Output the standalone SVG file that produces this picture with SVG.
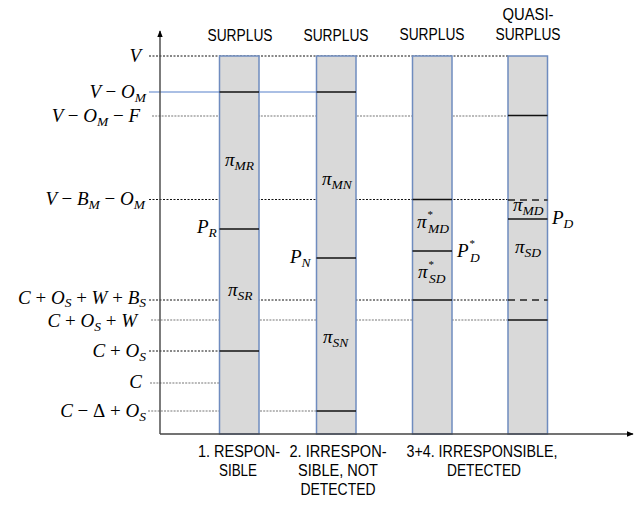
<svg xmlns="http://www.w3.org/2000/svg" width="636" height="505" viewBox="0 0 636 505">
<defs>
<marker id="arr" viewBox="0 0 10 10" refX="9" refY="5" markerWidth="7" markerHeight="7" orient="auto" markerUnits="userSpaceOnUse">
<path d="M0,1 L10,5 L0,9 Z" fill="#000"/>
</marker>
<style>
.bar{fill:#d9d9d9;stroke:#6f8cbf;stroke-width:1.5}
.lvl{stroke:#111;stroke-width:1.6}
.dash{stroke:#222;stroke-width:1.6;stroke-dasharray:7,5}
.dotk{stroke:#111;stroke-width:1;stroke-dasharray:2,1.5}
.dotg{stroke:#777;stroke-width:1.2;stroke-dasharray:2,1.2}
.blue{stroke:#8eaadb;stroke-width:1.6}
.ax{stroke:#444;stroke-width:1.4;fill:none}
.m{font-family:"Liberation Serif","DejaVu Serif",serif;font-style:italic;font-size:19px;fill:#000}
.up{font-style:normal}
.s{font-size:13.5px}
.st{font-size:11px;font-style:normal}
.h{font-family:"Liberation Sans",Arial,sans-serif;font-size:16px;fill:#000;text-anchor:middle}
</style>
</defs>
<rect width="636" height="505" fill="#fff"/>

<g id="guides">
<line class="dotk" x1="149" y1="56" x2="508" y2="56"/>
<line class="dotg" x1="152" y1="116" x2="508" y2="116"/>
<line class="dotk" x1="149" y1="199.5" x2="508" y2="199.5"/>
<line class="dotk" x1="149" y1="300" x2="508" y2="300"/>
<line class="dotg" x1="151" y1="320" x2="508" y2="320"/>
<line class="dotk" x1="149" y1="351" x2="219" y2="351"/>
<line class="dotg" x1="150" y1="383" x2="219" y2="383"/>
<line class="dotg" x1="148" y1="411" x2="316" y2="411"/>
<line class="blue" x1="149" y1="92" x2="316" y2="92"/>
</g>

<g id="bar1">
<rect class="bar" x="219.5" y="56" width="39.5" height="378"/>
<line class="lvl" x1="219.5" y1="92" x2="259" y2="92"/>
<line class="lvl" x1="219.5" y1="229" x2="259" y2="229"/>
<line class="lvl" x1="219.5" y1="351" x2="259" y2="351"/>
<text class="m" x="225" y="166">π<tspan class="s" dy="4">MR</tspan></text>
<text class="m" x="228" y="296">π<tspan class="s" dy="4">SR</tspan></text>
</g>

<g id="bar2">
<rect class="bar" x="316.5" y="56" width="39.5" height="378"/>
<line class="lvl" x1="316.5" y1="92" x2="356" y2="92"/>
<line class="lvl" x1="316.5" y1="258" x2="356" y2="258"/>
<line class="lvl" x1="316.5" y1="411" x2="356" y2="411"/>
<text class="m" x="322" y="185">π<tspan class="s" dy="4">MN</tspan></text>
<text class="m" x="323" y="343">π<tspan class="s" dy="4">SN</tspan></text>
</g>

<g id="bar3">
<rect class="bar" x="412.5" y="56" width="39.5" height="378"/>
<line class="lvl" x1="412.5" y1="199.5" x2="452" y2="199.5"/>
<line class="lvl" x1="412.5" y1="251" x2="452" y2="251"/>
<line class="lvl" x1="412.5" y1="300" x2="452" y2="300"/>
<text class="m" x="417" y="228">π<tspan class="st" dx="1" dy="-10">*</tspan><tspan class="s" dx="-5" dy="15">MD</tspan></text>
<text class="m" x="418" y="278">π<tspan class="st" dx="1" dy="-10">*</tspan><tspan class="s" dx="-5" dy="15">SD</tspan></text>
</g>

<g id="bar4">
<rect class="bar" x="508" y="56" width="39.5" height="378"/>
<line class="lvl" x1="508" y1="115.5" x2="547.5" y2="115.5"/>
<line class="dash" x1="508" y1="200" x2="547.5" y2="200"/>
<line class="lvl" x1="508" y1="219" x2="547.5" y2="219"/>
<line class="dash" x1="508" y1="300" x2="547.5" y2="300"/>
<line class="lvl" x1="508" y1="320" x2="547.5" y2="320"/>
<text class="m" x="513" y="211">π<tspan class="s" dy="4">MD</tspan></text>
<text class="m" x="515" y="253">π<tspan class="s" dy="4">SD</tspan></text>
</g>

<g id="axes">
<line class="ax" x1="160" y1="434" x2="160" y2="31" marker-end="url(#arr)"/>
<line class="ax" x1="160" y1="434" x2="633" y2="434" marker-end="url(#arr)"/>
</g>

<g id="ylabels" text-anchor="end">
<text class="m" x="141" y="62">V</text>
<text class="m" x="146" y="98">V <tspan class="up">−</tspan> O<tspan class="s" dy="4">M</tspan></text>
<text class="m" x="140" y="122">V <tspan class="up">−</tspan> O<tspan class="s" dy="4">M</tspan><tspan dy="-4"> <tspan class="up">−</tspan> F</tspan></text>
<text class="m" x="145" y="205">V <tspan class="up">−</tspan> B<tspan class="s" dy="4">M</tspan><tspan dy="-4"> <tspan class="up">−</tspan> O</tspan><tspan class="s" dy="4">M</tspan></text>
<text class="m" x="146" y="304">C <tspan class="up">+</tspan> O<tspan class="s" dy="3">S</tspan><tspan dy="-3"> <tspan class="up">+</tspan> W <tspan class="up">+</tspan> B</tspan><tspan class="s" dy="3">S</tspan></text>
<text class="m" x="137" y="327">C <tspan class="up">+</tspan> O<tspan class="s" dy="4">S</tspan><tspan dy="-4"> <tspan class="up">+</tspan> W</tspan></text>
<text class="m" x="146" y="357">C <tspan class="up">+</tspan> O<tspan class="s" dy="4">S</tspan></text>
<text class="m" x="142" y="388">C</text>
<text class="m" x="146" y="417">C <tspan class="up">−</tspan> <tspan class="up">Δ</tspan> <tspan class="up">+</tspan> O<tspan class="s" dy="4">S</tspan></text>
</g>

<g id="plabels">
<text class="m" x="197" y="233">P<tspan class="s" dy="4">R</tspan></text>
<text class="m" x="290" y="263">P<tspan class="s" dy="4">N</tspan></text>
<text class="m" x="457" y="257">P<tspan class="st" dx="1" dy="-10">*</tspan><tspan class="s" dx="-5" dy="15">D</tspan></text>
<text class="m" x="552" y="224">P<tspan class="s" dy="4">D</tspan></text>
</g>

<g id="headers">
<text class="h" x="240" y="41" textLength="65" lengthAdjust="spacingAndGlyphs">SURPLUS</text>
<text class="h" x="336" y="41" textLength="65" lengthAdjust="spacingAndGlyphs">SURPLUS</text>
<text class="h" x="432" y="40" textLength="65" lengthAdjust="spacingAndGlyphs">SURPLUS</text>
<text class="h" x="528" y="20" textLength="51" lengthAdjust="spacingAndGlyphs">QUASI-</text>
<text class="h" x="528" y="40" textLength="65" lengthAdjust="spacingAndGlyphs">SURPLUS</text>
</g>

<g id="xlabels">
<text class="h" x="239" y="457" textLength="82" lengthAdjust="spacingAndGlyphs">1. RESPON-</text>
<text class="h" x="238" y="476" textLength="38" lengthAdjust="spacingAndGlyphs">SIBLE</text>
<text class="h" x="338" y="457" textLength="97" lengthAdjust="spacingAndGlyphs">2. IRRESPON-</text>
<text class="h" x="338" y="476" textLength="80" lengthAdjust="spacingAndGlyphs">SIBLE, NOT</text>
<text class="h" x="338" y="495" textLength="75" lengthAdjust="spacingAndGlyphs">DETECTED</text>
<text class="h" x="482" y="457" textLength="151" lengthAdjust="spacingAndGlyphs">3+4. IRRESPONSIBLE,</text>
<text class="h" x="484" y="476" textLength="74" lengthAdjust="spacingAndGlyphs">DETECTED</text>
</g>
</svg>
